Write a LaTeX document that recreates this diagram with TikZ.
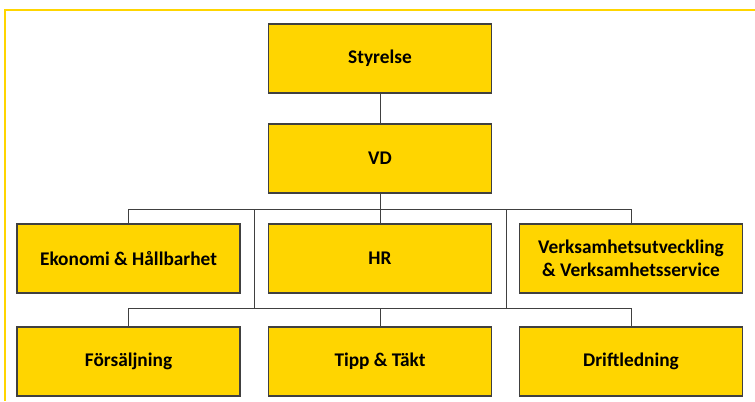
\documentclass[tikz,border=0pt]{standalone}
\usepackage{fontspec}
\setmainfont{Carlito}
\definecolor{gul}{HTML}{FFD500}
\definecolor{kant}{HTML}{404040}
\tikzset{
  orgbox/.style={draw=kant, line width=0.9pt, fill=gul, minimum width=167.25pt,
    minimum height=51.75pt, align=center, inner sep=0pt,
    font=\fontsize{14.5}{17.5}\selectfont\bfseries},
  conn/.style={draw=kant, line width=0.75pt}
}
\begin{document}
\begin{tikzpicture}[x=0.75pt,y=0.75pt,yscale=-1,xscale=1]
\useasboundingbox (0,0) rectangle (755,401);

%Shape: Frame
\draw [gul, line width=1.6pt] (755,10) -- (5,10) -- (5,401) ;

% Text Node
\node [orgbox] (styrelse) at (380,58.5) {Styrelse};
% Text Node
\node [orgbox] (vd) at (380,158.5) {VD};
% Text Node
\node [orgbox] (ekonomi) at (128.5,258.5) {Ekonomi \& Hållbarhet};
% Text Node
\node [orgbox] (hr) at (380,258.5) {HR};
% Text Node
\node [orgbox] (verks) at (631,258.5) {Verksamhetsutveckling\\\& Verksamhetsservice};
% Text Node
\node [orgbox] (forsalj) at (128.5,361.5) {Försäljning};
% Text Node
\node [orgbox] (tipp) at (380,361.5) {Tipp \& Täkt};
% Text Node
\node [orgbox] (drift) at (631,361.5) {Driftledning};

\coordinate (bus1) at (380,209);
\coordinate (bus2) at (380,308);
\coordinate (lank1) at (254,209);
\coordinate (lank2) at (506,209);

%Lines
\draw [conn] (styrelse) -- (vd) ;
\draw [conn] (vd) -- (bus1) ;
\draw [conn] (bus1) -| (ekonomi) ;
\draw [conn] (bus1) -- (hr) ;
\draw [conn] (bus1) -| (verks) ;
\draw [conn] (lank1) -- (lank1 |- bus2) ;
\draw [conn] (lank2) -- (lank2 |- bus2) ;
\draw [conn] (bus2) -| (forsalj) ;
\draw [conn] (bus2) -- (tipp) ;
\draw [conn] (bus2) -| (drift) ;

\end{tikzpicture}
\end{document}
